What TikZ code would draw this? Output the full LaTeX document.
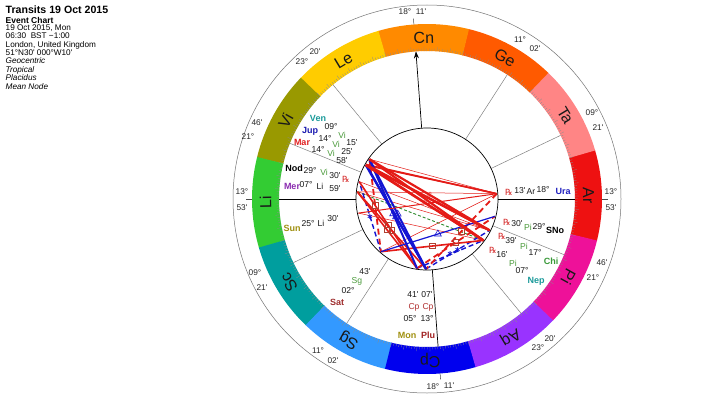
\documentclass[tikz,border=0pt]{standalone}
\usepackage{fontspec}
\setmainfont{Liberation Sans}
\newfontfamily\dejavu{DejaVu Sans}
\usetikzlibrary{calc,arrows.meta,shapes.geometric}
\newcommand\am{\textquotesingle}
\definecolor{cAr}{HTML}{EE1111}
\definecolor{cTa}{HTML}{FF8585}
\definecolor{cGe}{HTML}{FF5A00}
\definecolor{cCn}{HTML}{FF8A00}
\definecolor{cLe}{HTML}{FFCC00}
\definecolor{cVi}{HTML}{999900}
\definecolor{cLi}{HTML}{33CC33}
\definecolor{cSc}{HTML}{009E9E}
\definecolor{cSg}{HTML}{3399FF}
\definecolor{cCp}{HTML}{0000EE}
\definecolor{cAq}{HTML}{9933FF}
\definecolor{cPi}{HTML}{EE1199}
\definecolor{aspred}{HTML}{E41B17}
\definecolor{aspblue}{HTML}{1414D2}
\definecolor{aspgreen}{HTML}{2E8B2E}
\definecolor{glyphbrown}{HTML}{B04030}
\definecolor{rxred}{HTML}{D42020}
\definecolor{tVen}{HTML}{1A9A9A}
\definecolor{tJup}{HTML}{1A1AB0}
\definecolor{tMar}{HTML}{E02020}
\definecolor{tMer}{HTML}{8A2BB0}
\definecolor{tSun}{HTML}{A09010}
\definecolor{tSat}{HTML}{A03030}
\definecolor{tPlu}{HTML}{A02020}
\definecolor{tUra}{HTML}{2020C0}
\definecolor{tChi}{HTML}{3A9A3A}
\definecolor{tSgn}{HTML}{4A9A3A}
\definecolor{tCp}{HTML}{B03030}
\begin{document}
\begin{tikzpicture}[x=1pt,y=1pt,
  signlbl/.style={font=\fontsize{16}{18}\selectfont, inner sep=0pt, text=black!90},
  deg/.style={font=\fontsize{8.3}{9}\selectfont, inner sep=0pt, text=black!85},
  num/.style={font=\fontsize{8.6}{9}\selectfont, inner sep=0pt, text=black!90},
  sgn/.style={font=\fontsize{8.6}{9}\selectfont, inner sep=0pt, text=tSgn},
  pname/.style={font=\bfseries\fontsize{9}{10}\selectfont, inner sep=0pt},
  rx/.style={font=\dejavu\fontsize{8.5}{9}\selectfont, inner sep=0pt, text=rxred},
  info/.style={anchor=base west, inner sep=0pt, font=\fontsize{8.2}{9}\selectfont},
  ring/.style={draw=black!55, line width=0.5pt},
  cusp/.style={draw=black!50, line width=0.5pt},
  axisline/.style={draw=black, line width=0.7pt},
  minor/.style={draw=aspred, line width=0.5pt},
  qcx/.style={draw=aspgreen, line width=0.9pt, dash pattern=on 3pt off 2pt},
  sxt/.style={draw=aspblue, line width=1.4pt, dash pattern=on 5pt off 3pt},
  sqrd/.style={draw=aspred, line width=1.8pt, dash pattern=on 6pt off 4pt},
  sqr/.style={draw=aspred, line width=1.6pt},
  tri/.style={draw=aspblue, line width=2pt},
  trithin/.style={draw=aspblue, line width=1.2pt},
  opp/.style={draw=aspred, line width=2.2pt},
  oppthin/.style={draw=aspred, line width=1pt},
  mid/.style={draw=aspred, line width=1.5pt},
  sqglyph/.style={draw=glyphbrown, line width=0.6pt, minimum size=5.5pt, inner sep=0pt},
  triglyph/.style={regular polygon, regular polygon sides=3, draw=aspblue, line width=0.6pt, minimum size=8pt, inner sep=0pt},
  sxtglyph/.style={font=\dejavu\bfseries\fontsize{8}{8}\selectfont, text=aspblue, inner sep=0pt},
  oppglyph/.style={font=\dejavu\fontsize{6}{6}\selectfont, text=aspred, inner sep=0pt}]
\useasboundingbox (0,0) rectangle (720,400);
\fill[white] (0,0) rectangle (720,400);
% header
\node[anchor=base west, inner sep=0pt, font=\bfseries\fontsize{10.6}{12}\selectfont] (title) at (5.5,386) {Transits 19 Oct 2015};
\node[anchor=base west, inner sep=0pt, font=\bfseries\fontsize{8.5}{9}\selectfont] (evt) at (5.5,376.7) {Event Chart};
\node[info] (i1) at (5.5,369.5) {19 Oct 2015, Mon};
\node[info] (i2) at (5.5,361.1) {06:30\ \ BST −1:00};
\node[info] (i3) at (5.5,352.8) {London, United Kingdom};
\node[info] (i4) at (5.5,344.4) {51°N30\am{} 000°W10\am};
\node[info, font=\itshape\fontsize{8.2}{9}\selectfont] (i5) at (5.5,336.1) {Geocentric};
\node[info, font=\itshape\fontsize{8.2}{9}\selectfont] (i6) at (5.5,327.7) {Tropical};
\node[info, font=\itshape\fontsize{8.2}{9}\selectfont] (i7) at (5.5,319.4) {Placidus};
\node[info, font=\itshape\fontsize{8.2}{9}\selectfont] (i8) at (5.5,311) {Mean Node};

\begin{scope}[shift={(427,201)}]
  % zodiac band
  \foreach \i/\c/\n in {0/cAr/Ar,1/cTa/Ta,2/cGe/Ge,3/cCn/Cn,4/cLe/Le,5/cVi/Vi,6/cLi/Li,7/cSc/Sc,8/cSg/Sg,9/cCp/Cp,10/cAq/Aq,11/cPi/Pi}{
    \pgfmathsetmacro\a{30*\i-13.883}
    \pgfmathsetmacro\b{\a+30.15}
    \fill[\c] (\a:148) arc[start angle=\a, end angle=\b, radius=148] -- (\b:175) arc[start angle=\b, end angle=\a, radius=175] -- cycle;
  }
  \foreach \d in {0,...,359}{
    \pgfmathsetmacro\t{\d-13.883}
    \pgfmathsetmacro\r{ifthenelse(mod(\d,5)==0,152.5,150.5)}
    \draw[black!45, line width=0.3pt] (\t:148) -- (\t:\r);
  }
  \foreach \i/\n in {0/Ar,1/Ta,2/Ge,3/Cn,4/Le,5/Vi,6/Li,7/Sc,8/Sg,9/Cp,10/Aq,11/Pi}{
    \pgfmathsetmacro\m{30*\i+1.117}
    \node[signlbl, rotate=\m-90] (sign\n) at (\m:161.5) {\n};
  }
  \draw[ring] (0,0) circle[radius=194];
  % house cusps
  \foreach \t in {205.47,237.15,309.45,337.89,25.47,57.15,129.45,157.89}
    \draw[cusp] (\t:71) -- (\t:148);
  \draw[axisline] (180:71) -- (180:148);
  \draw[axisline] (0:71) -- (0:148);
  \draw[axisline] (274.3:71) -- (274.3:148);
  \draw[axisline, -{Stealth[length=7pt,width=5pt]}] (94.3:71) -- (94.3:148);
  \foreach \t in {0,94.3,180,274.3}
    \draw[black!70, line width=0.5pt] (\t:175) -- (\t:181);
  % planet points
  \coordinate (pSun) at (191.62:70);
  \coordinate (pMon) at (261.8:70);
  \coordinate (pMer) at (174.1:70);
  \coordinate (pVen) at (145.37:70);
  \coordinate (pMar) at (150.54:70);
  \coordinate (pJup) at (151.09:70);
  \coordinate (pSat) at (228.84:70);
  \coordinate (pUra) at (4.34:70);
  \coordinate (pNep) at (323.77:70);
  \coordinate (pPlu) at (269.23:70);
  \coordinate (pNod) at (165.62:70);
  \coordinate (pSNo) at (345.62:70);
  \coordinate (pChi) at (333.39:70);
  % aspects
  \foreach \a/\b in {Sat/Ura,Sun/Nep,Ven/Ura,Mer/Ura,Nod/Chi,Mer/Chi}
    \draw[minor] (p\a) -- (p\b);
  \draw[qcx] (pMer) -- (pNep);
  \foreach \a/\b in {Mon/Nep,Sat/Nod,Plu/Chi}
    \draw[sxt] (p\a) -- (p\b);
  \foreach \a/\b in {Ura/Plu,Ven/Sat,Mon/SNo}
    \draw[sqrd] (p\a) -- (p\b);
  \foreach \a/\b in {Mer/Mon,Mer/Plu,Sat/Nep,Nod/Mon}
    \draw[sqr] (p\a) -- (p\b);
  \foreach \a/\b in {Mar/Ura,Jup/Ura}
    \draw[mid] (p\a) -- (p\b);
  \foreach \a/\b in {Ven/Plu,Mar/Plu,Jup/Plu,Ven/Mon}
    \draw[tri] (p\a) -- (p\b);
  \draw[trithin] (pSat) -- (pSNo);
  \foreach \a/\b in {Ven/Nep,Mar/Chi,Jup/Chi,Mar/Nep,Jup/Nep,Ven/Chi}
    \draw[opp] (p\a) -- (p\b);
  \draw[oppthin] (pSun) -- (pUra);
  % aspect glyphs
  \foreach \a/\b in {Ura/Plu,Ven/Sat,Mon/SNo,Mer/Mon,Mer/Plu,Sat/Nep,Nod/Mon}
    \node[sqglyph] (g\a\b) at ($(p\a)!0.5!(p\b)$) {};
  \foreach \a/\b in {Ven/Plu,Mar/Plu,Ven/Mon,Sat/SNo}
    \node[triglyph] (g\a\b) at ($(p\a)!0.5!(p\b)$) {};
  \foreach \a/\b in {Mon/Nep,Sat/Nod,Plu/Chi}
    \node[sxtglyph] (g\a\b) at ($(p\a)!0.5!(p\b)$) {∗};
  \foreach \a/\b in {Ven/Nep,Ven/Chi}
    \node[oppglyph, rotate=30] (g\a\b) at ($(p\a)!0.5!(p\b)$) {☍};
  \draw[black, line width=0.7pt] (0,0) circle[radius=71];
\end{scope}

% cusp degree labels
\node[deg] (dMCd) at (405,388) {18°};
\node[deg] (dMCm) at (421,388) {11\am};
\node[deg] (d9d) at (520,360) {11°};
\node[deg] (d9m) at (535,351) {02\am};
\node[deg] (d8d) at (592,287) {09°};
\node[deg] (d8m) at (598,272) {21\am};
\node[deg] (d7d) at (611,208) {13°};
\node[deg] (d7m) at (611,192) {53\am};
\node[deg] (d6m) at (602,137) {46\am};
\node[deg] (d6d) at (593,122) {21°};
\node[deg] (d5m) at (550,61) {20\am};
\node[deg] (d5d) at (538,52) {23°};
\node[deg] (d4d) at (433,13) {18°};
\node[deg] (d4m) at (449,14) {11\am};
\node[deg] (d3d) at (318,49) {11°};
\node[deg] (d3m) at (333,39) {02\am};
\node[deg] (d2d) at (255,127) {09°};
\node[deg] (d2m) at (262,112) {21\am};
\node[deg] (d1d) at (242,208) {13°};
\node[deg] (d1m) at (242,192) {53\am};
\node[deg] (d12d) at (248,263) {21°};
\node[deg] (d12m) at (257,277) {46\am};
\node[deg] (d11d) at (302,338) {23°};
\node[deg] (d11m) at (315,348) {20\am};

% planet labels, upper left
\node[pname, text=tVen] (lVen) at (318,282) {Ven};
\node[num] (nVenD) at (331,273) {09°};
\node[pname, text=tJup] (lJup) at (310,269) {Jup};
\node[sgn] (sVen) at (342,265) {Vi};
\node[num] (nJupD) at (325,262) {14°};
\node[num] (nVenM) at (352,257) {15\am};
\node[pname, text=tMar] (lMar) at (302,258) {Mar};
\node[sgn] (sJup) at (336,256) {Vi};
\node[num] (nMarD) at (318,251) {14°};
\node[num] (nMarM) at (347,248) {25\am};
\node[sgn] (sMar) at (331,247) {Vi};
\node[num] (nJupM) at (342,239) {58\am};
\node[pname, text=black] (lNod) at (294,232) {Nod};
\node[num] (nNodD) at (310,229) {29°};
\node[sgn] (sNod) at (324,228) {Vi};
\node[num] (nNodM) at (335,224) {30\am};
\node[rx] (rNod) at (346,221) {℞};
\node[pname, text=tMer] (lMer) at (292,214) {Mer};
\node[num] (nMerD) at (306,215) {07°};
\node[num] (sMer) at (320,214) {Li};
\node[num] (nMerM) at (335,211) {59\am};
\node[pname, text=tSun] (lSun) at (292,172) {Sun};
\node[num] (nSunD) at (308,176) {25°};
\node[num] (sSun) at (321,177) {Li};
\node[num] (nSunM) at (333,181) {30\am};
% Saturn
\node[num] (nSatM) at (365,128) {43\am};
\node[sgn] (sSat) at (357,119) {Sg};
\node[num] (nSatD) at (348,109) {02°};
\node[pname, text=tSat] (lSat) at (337,98) {Sat};
% Moon, Pluto
\node[num] (nMonM) at (413,105) {41\am};
\node[num] (nPluM) at (427,105) {07\am};
\node[sgn, text=tCp] (sMon) at (414,93) {Cp};
\node[sgn, text=tCp] (sPlu) at (428,93) {Cp};
\node[num] (nMonD) at (410,81) {05°};
\node[num] (nPluD) at (427,81) {13°};
\node[pname, text=tSun] (lMon) at (407,65) {Mon};
\node[pname, text=tPlu] (lPlu) at (428,65) {Plu};
% right side
\node[rx] (rUra) at (509,208) {℞};
\node[num] (nUraM) at (520,209) {13\am};
\node[num] (sUra) at (531,208) {Ar};
\node[num] (nUraD) at (543,210) {18°};
\node[pname, text=tUra] (lUra) at (563,209) {Ura};
\node[rx] (rSNo) at (507,178) {℞};
\node[num] (nSNoM) at (517,176) {30\am};
\node[sgn] (sSNo) at (528,173) {Pi};
\node[num] (nSNoD) at (539,173) {29°};
\node[pname, text=black] (lSNo) at (555,170) {SNo};
\node[rx] (rChi) at (502,164) {℞};
\node[num] (nChiM) at (511,159) {39\am};
\node[sgn] (sChi) at (524,154) {Pi};
\node[num] (nChiD) at (535,148) {17°};
\node[pname, text=tChi] (lChi) at (551,139) {Chi};
\node[rx] (rNep) at (493,150) {℞};
\node[num] (nNepM) at (502,145) {16\am};
\node[sgn] (sNep) at (513,137) {Pi};
\node[num] (nNepD) at (522,129) {07°};
\node[pname, text=tVen] (lNep) at (536,119) {Nep};
\end{tikzpicture}
\end{document}
